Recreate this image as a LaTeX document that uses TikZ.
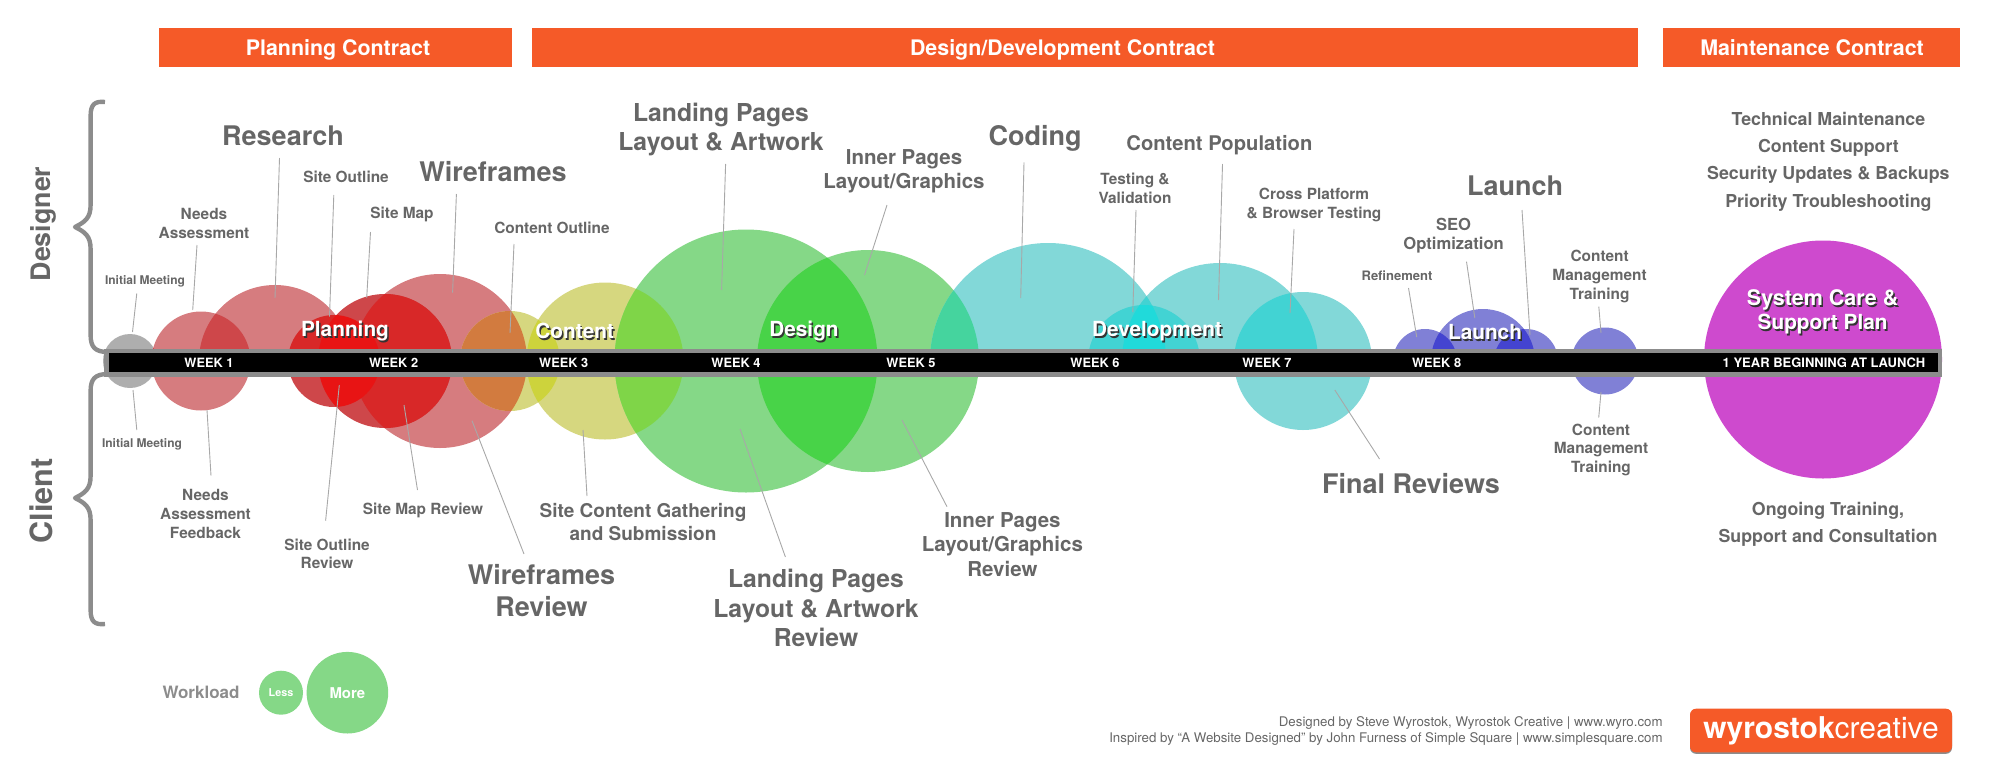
\documentclass[tikz,border=0pt]{standalone}
\usepackage{fontspec}
\setmainfont{TeX Gyre Heros}
\definecolor{contractorange}{HTML}{F55A28}
\definecolor{labelgray}{HTML}{666666}
\definecolor{bargray}{HTML}{8C8C8C}
\definecolor{leadgray}{HTML}{A8A8A8}
\definecolor{graybub}{HTML}{AEAEAE}
\definecolor{pinkbub}{HTML}{D67C7F}
\definecolor{deepbub}{HTML}{CE474A}
\definecolor{redmix}{HTML}{D82828}
\definecolor{brightmix}{HTML}{E81414}
\definecolor{yellowbub}{HTML}{D6D77F}
\definecolor{orangemix}{HTML}{D27B3F}
\definecolor{limemix}{HTML}{CDD33C}
\definecolor{greenbub}{HTML}{85D887}
\definecolor{leafmix}{HTML}{7FD548}
\definecolor{greenmix}{HTML}{48D348}
\definecolor{seamix}{HTML}{45D49E}
\definecolor{tealbub}{HTML}{82D8D8}
\definecolor{tealmix}{HTML}{42D3D3}
\definecolor{cyanmix}{HTML}{20DADA}
\definecolor{bluebub}{HTML}{8080D6}
\definecolor{bluemix}{HTML}{4444D0}
\definecolor{careplan}{HTML}{CE4ACE}
\newcommand{\stage}[4]{
	\node[stagetext, text=black!80] at (#2+1.5,#3+2) {#4};
	\node[stagetext] (#1) at (#2,#3) {#4};
}
\begin{document}
\begin{tikzpicture}[x=0.5pt, y=-0.5pt,
	txt/.style 2 args = {align=center, inner sep=0pt, text=labelgray, font=\fontsize{#1}{#2}\selectfont\bfseries},
	huge/.style = {txt={13.5pt}{16.1pt}},
	large/.style = {txt={12.35pt}{14.9pt}},
	mid/.style = {txt={10.25pt}{12.2pt}},
	plain/.style = {txt={7.7pt}{9.35pt}},
	wee/.style = {txt={6pt}{7pt}},
	maint/.style = {txt={8.9pt}{13.65pt}},
	contracttext/.style = {inner sep=0pt, text=white, font=\fontsize{10.7pt}{12pt}\selectfont\bfseries},
	weektext/.style = {inner sep=0pt, text=white, font=\fontsize{6.4pt}{8pt}\selectfont\bfseries},
	stagetext/.style = {align=center, inner sep=0pt, text=white, font=\fontsize{10.4pt}{12pt}\selectfont\bfseries},
	side/.style = {inner sep=0pt, rotate=90, text=labelgray, font=\fontsize{#1}{16pt}\selectfont\bfseries},
	brace/.style = {draw=bargray, line width=2.2pt, line join=round},
	lead/.style = {draw=leadgray, line width=0.45pt},
	contractbar/.style = {fill=contractorange, inner sep=0pt, minimum height=19.8pt}]
	\useasboundingbox (0,0) rectangle (2000,776);

	\node[contractbar, minimum width=176.5pt] (planbar) at (335,47.5) {};
	\node[contractbar, minimum width=553.2pt] (devbar) at (1085.2,47.5) {};
	\node[contractbar, minimum width=148.5pt] (maintbar) at (1811.5,47.5) {};
	\node[contracttext] (plantext) at (338,49.5) {Planning Contract};
	\node[contracttext] (devtext) at (1062.5,49.5) {Design/Development Contract};
	\node[contracttext] (mainttext) at (1812,47.5) {Maintenance Contract};

	\draw[brace] (105,102) .. controls (95,101) and (90.6,104) .. (90.6,116) -- (90.6,205) .. controls (90.6,218) and (85,222) .. (75,227) .. controls (85,232) and (90.6,236) .. (90.6,249) -- (90.6,335) .. controls (90.6,347) and (95,352) .. (108,352);
	\draw[brace] (108,374) .. controls (95,374) and (90.6,379) .. (90.6,391) -- (90.6,476) .. controls (90.6,489) and (85,493) .. (75,498) .. controls (85,503) and (90.6,507) .. (90.6,520) -- (90.6,610) .. controls (90.6,622) and (95,625) .. (105,624);
	\node[side=13.4pt] (designer) at (43,224) {Designer};
	\node[side=15.3pt] (client) at (41.5,500.7) {Client};

	\foreach \cx/\r/\tone in {130/27/graybub, 201/49.5/pinkbub, 440/87/pinkbub, 334/46/deepbub, 385/67/deepbub,
		510/50/yellowbub, 605/78.5/yellowbub, 746/131.5/greenbub, 868/111/greenbub, 1303/69/tealbub, 1605/33.5/bluebub}
		\fill[\tone] (\cx,361) circle (\r);
	\fill[careplan] (1823,359.5) circle (119);

	\begin{scope}
		\clip (0,0) rectangle (2000,361);
		\foreach \cx/\r/\tone in {275/76/pinkbub, 1048/118/tealbub, 1144/56/tealbub, 1220/98/tealbub,
			1425/32/bluebub, 1483/52/bluebub, 1526/32/bluebub}
			\fill[\tone] (\cx,361) circle (\r);
		\foreach \ax/\ar/\bx/\br/\tone in {201/49.5/275/76/deepbub, 275/76/334/46/redmix, 275/76/385/67/redmix,
			868/111/1048/118/seamix, 1048/118/1144/56/tealmix, 1048/118/1220/98/tealmix, 1144/56/1220/98/tealmix,
			1220/98/1303/69/tealmix, 1425/32/1483/52/bluemix, 1483/52/1526/32/bluemix} {
			\begin{scope}
				\clip (\ax,361) circle (\ar);
				\fill[\tone] (\bx,361) circle (\br);
			\end{scope}
		}
		\clip (1048,361) circle (118);
		\clip (1144,361) circle (56);
		\fill[cyanmix] (1220,361) circle (98);
	\end{scope}

	\foreach \ax/\ar/\bx/\br/\tone in {130/27/201/49.5/deepbub, 385/67/440/87/redmix, 334/46/385/67/brightmix,
		440/87/510/50/orangemix, 510/50/605/78.5/limemix, 605/78.5/746/131.5/leafmix, 746/131.5/868/111/greenmix} {
		\begin{scope}
			\clip (\ax,361) circle (\ar);
			\fill[\tone] (\bx,361) circle (\br);
		\end{scope}
	}

	\node[plain] (needs) at (204,223.5) {Needs\\Assessment};
	\node[wee] (initmeet) at (145,281) {Initial Meeting};
	\node[huge] (research) at (283,136) {Research};
	\node[plain] (siteoutline) at (346,177) {Site Outline};
	\node[plain] (sitemap) at (402,214) {Site Map};
	\node[huge] (wireframes) at (493,172) {Wireframes};
	\node[plain] (contentoutline) at (552,228) {Content Outline};
	\node[large] (landing) at (721,129.5) {Landing Pages\\Layout \& Artwork};
	\node[mid] (inner) at (904,171.5) {Inner Pages\\Layout/Graphics};
	\node[huge] (coding) at (1035,138) {Coding};
	\node[txt={10.1pt}{12pt}] (contentpop) at (1219.4,145.3) {Content Population};
	\node[plain] (testing) at (1135,188) {Testing \&\\Validation};
	\node[plain] (cross) at (1314,205) {Cross Platform\\\& Browser Testing};
	\node[huge] (launch) at (1515,186) {Launch};
	\node[txt={8.3pt}{9.5pt}] (seo) at (1453.6,235.5) {SEO\\Optimization};
	\node[txt={6.5pt}{8pt}] (refinement) at (1397,275.7) {Refinement};
	\node[plain] (cmtop) at (1599.6,276.3) {Content\\Management\\Training};
	\node[maint] (maintlist) at (1828.4,161.5) {Technical Maintenance\\Content Support\\Security Updates \& Backups\\Priority Troubleshooting};

	\node[wee] (initrev) at (142,444) {Initial Meeting};
	\node[plain] (needsrev) at (205.5,513.8) {Needs\\Assessment\\Feedback};
	\node[plain] (outlinerev) at (327,553.8) {Site Outline\\Review};
	\node[plain] (maprev) at (423,510) {Site Map Review};
	\node[huge] (wirerev) at (541.5,590.8) {Wireframes\\Review};
	\node[txt={9.5pt}{11.5pt}] (gather) at (643,522.5) {Site Content Gathering\\and Submission};
	\node[large] (landrev) at (816,608) {Landing Pages\\Layout \& Artwork\\Review};
	\node[mid] (innerrev) at (1002.4,544.5) {Inner Pages\\Layout/Graphics\\Review};
	\node[huge] (final) at (1411,484) {Final Reviews};
	\node[plain] (cmbot) at (1601,449.7) {Content\\Management\\Training};
	\node[maint] (ongoing) at (1828,524.4) {Ongoing Training,\\Support and Consultation};

	\foreach \n/\dx/\dy/\tx/\ty in {initmeet/-8.2/12.3/132.5/332, needs/-7/21.5/192.7/310, research/-3.5/22/275/298,
		siteoutline/-12.2/18/329.5/316.7, sitemap/-31.5/18/366.7/298, wireframes/-36.6/22/452.6/292.7,
		contentoutline/-38/16/510/333, landing/4.6/34.5/721.6/290, inner/-17/33.5/864.5/275, coding/-11/24.3/1020.7/298,
		testing/1/22/1132.8/312, contentpop/3.1/18.7/1218.5/300, cross/-20/24/1290/313, launch/7/24/1530/335,
		seo/12.9/26.2/1474.8/318, refinement/11.5/12.3/1416.7/337, cmtop/-0.8/30.4/1601/333,
		initrev/-5.2/-14/133/390, needsrev/5.5/-38.1/207/410, outlinerev/-1.4/-33.1/339.3/385, maprev/-5.5/-20/404/405,
		wirerev/-17.5/-36.8/472/420.7, gather/-56/-26.5/583/430, landrev/-30.6/-51/740/429, innerrev/-55.4/-37.8/902/420,
		final/-31.5/-25/1334.8/390, cmbot/-2.3/-32/1601/392} {
		\coordinate (\n-tip) at (\tx,\ty);
		\draw[lead] (\n.center) ++(\dx,\dy) -- (\n-tip);
	}

	\fill[bargray] (104,349) rectangle (1942,377);
	\fill[black] (108.5,353) rectangle (1938,372);
	\foreach \x/\w in {209/1, 393.6/2, 563.7/3, 736/4, 911/5, 1095/6, 1267/7, 1436.6/8}
		\node[weektext] (week\w) at (\x,362.7) {WEEK \w};
	\node[weektext, font=\fontsize{6.5pt}{8pt}\selectfont\bfseries] (yearone) at (1824,362.7) {1 YEAR BEGINNING AT LAUNCH};

	\stage{planning}{345}{331}{Planning}
	\stage{content}{574.7}{330.5}{Content}
	\stage{design}{804}{331}{Design}
	\stage{development}{1157}{331}{Development}
	\stage{launching}{1485}{332}{Launch}
	\stage{careplantext}{1822.6}{311.5}{\fontsize{10.75pt}{12.85pt}\selectfont System Care \&\\Support Plan}

	\node[txt={8.5pt}{10pt}, text=bargray] (workload) at (201,692.7) {Workload};
	\node[circle, fill=greenbub, minimum size=22pt, inner sep=0pt, text=white, font=\fontsize{5.4pt}{6pt}\selectfont\bfseries] (less) at (281,692.7) {Less};
	\node[circle, fill=greenbub, minimum size=40.8pt, inner sep=0pt, text=white, font=\fontsize{7.45pt}{9pt}\selectfont\bfseries] (more) at (347.4,692.7) {More};

	\node[anchor=east, inner sep=0pt, align=right, text=labelgray, font=\fontsize{6.64pt}{8pt}\selectfont] (credits) at (1663,730.7) {Designed by Steve Wyrostok, Wyrostok Creative | www.wyro.com\\Inspired by “A Website Designed” by John Furness of Simple Square | www.simplesquare.com};
	\node[rounded corners=3pt, fill=black!45, minimum width=131pt, minimum height=21.8pt] (logoshadow) at (1821,732) {};
	\node[rounded corners=3pt, fill=contractorange, minimum width=131pt, minimum height=21.8pt, inner sep=0pt, text=white, font=\fontsize{15pt}{17pt}\selectfont] (logo) at (1821,730.5) {\textbf{wyrostok}creative};
\end{tikzpicture}
\end{document}
